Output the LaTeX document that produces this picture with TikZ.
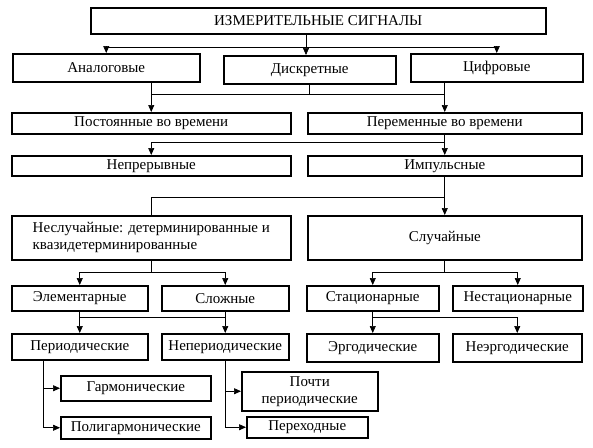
\documentclass[tikz,border=0pt]{standalone}
\usepackage{fontspec}
\setmainfont{Liberation Serif}
\usetikzlibrary{arrows.meta, positioning}

\begin{document}
\begin{tikzpicture}[
  x=1pt, y=-1pt,
  font=\fontsize{15}{17}\selectfont,
  box/.style={rectangle, draw, line width=1.5pt, anchor=north west, inner sep=1pt, align=center},
  >={Triangle[length=7pt, width=6pt]},
  line width=0.6pt
]
  \useasboundingbox (0,0) rectangle (593,447);

  % Top level
  \node[box, minimum width=455, minimum height=26] (title) at (90,7) {ИЗМЕРИТЕЛЬНЫЕ СИГНАЛЫ};
  \node[box, minimum width=187, minimum height=28] (an) at (12,53) {Аналоговые};
  \node[box, minimum width=172, minimum height=28] (disc) at (223,55) {Дискретные};
  \node[box, minimum width=172, minimum height=28] (cif) at (410,53) {Цифровые};

  % Constant / variable
  \node[box, minimum width=279, minimum height=21] (post) at (11,112) {Постоянные во времени};
  \node[box, minimum width=274, minimum height=21] (per) at (307,112) {Переменные во времени};
  \node[box, minimum width=279, minimum height=20] (nep) at (11,155) {Непрерывные};
  \node[box, minimum width=274, minimum height=20] (imp) at (307,155) {Импульсные};

  % Deterministic / random
  \node[box, align=left, minimum width=279, minimum height=44] (nesl) at (11,215)
    {Неслучайные: детерминированные и\\квазидетерминированные};
  \node[box, minimum width=274, minimum height=44] (sl) at (307,215) {Случайные};

  \node[box, minimum width=136, minimum height=25] (elem) at (11,285) {Элементарные};
  \node[box, minimum width=127, minimum height=25] (slozh) at (161,285) {Сложные};
  \node[box, minimum width=132, minimum height=25] (stac) at (306,285) {Стационарные};
  \node[box, minimum width=130, minimum height=25] (nestac) at (452,285) {Нестационарные};

  \node[box, minimum width=136, minimum height=26] (period) at (11,333) {Периодические};
  \node[box, minimum width=127, minimum height=26] (neper) at (161,333) {Непериодические};
  \node[box, minimum width=132, minimum height=28] (ergod) at (306,333) {Эргодические};
  \node[box, minimum width=129, minimum height=28] (neergod) at (452,333) {Неэргодические};

  % Bottom row
  \node[box, minimum width=150, minimum height=25] (garm) at (60,375) {Гармонические};
  \node[box, minimum width=150, minimum height=22] (poly) at (60,416) {Полигармонические};
  \node[box, minimum width=136, minimum height=39] (pochti) at (241,371) {Почти\\периодические};
  \node[box, minimum width=121, minimum height=21] (perehod) at (246,416) {Переходные};

  % Junctions
  \coordinate (j1) at (306,47);
  \coordinate (j2) at (306,94);
  \coordinate (j3) at (306,142);
  \coordinate (j4) at (306,197);
  \coordinate (j5) at (306,272);
  \coordinate (j6) at (306,317);

  \draw (title.south -| j1) -- (j1);
  \draw[->] (j1) -| (an);
  \draw[->] (j1) -| (cif);
  \draw[->] (j1) -- (j1 |- disc.north);

  \draw (disc) -- (disc |- j2);
  \draw (post |- j2) -- (per |- j2);
  \draw[->] (post |- an.south) -- (post);
  \draw[->] (per |- cif.south) -- (per);

  \draw[->] (per) -- (imp);
  \draw[->] (per |- j3) -| (nep);

  \draw[->] (imp) -- (sl);
  \draw (imp |- j4) -| (nesl);

  \draw (nesl) -- (nesl |- j5);
  \draw[->] (nesl |- j5) -| (elem);
  \draw[->] (nesl |- j5) -| (slozh);
  \draw (sl) -- (sl |- j5);
  \draw[->] (sl |- j5) -| (stac);
  \draw[->] (sl |- j5) -| (nestac);

  \draw[->] (elem) -- (period);
  \draw[->] (slozh) -- (neper);
  \draw (elem |- j6) -- (slozh |- j6);
  \draw[->] (stac) -- (ergod);
  \draw[->] (stac |- j6) -| (neergod);

  \draw[->] ([xshift=-36pt]period.south) |- (garm);
  \draw[->] ([xshift=-36pt]period.south) |- (poly);
  \draw[->] (neper) |- (pochti);
  \draw[->] (neper) |- (perehod);
\end{tikzpicture}
\end{document}
